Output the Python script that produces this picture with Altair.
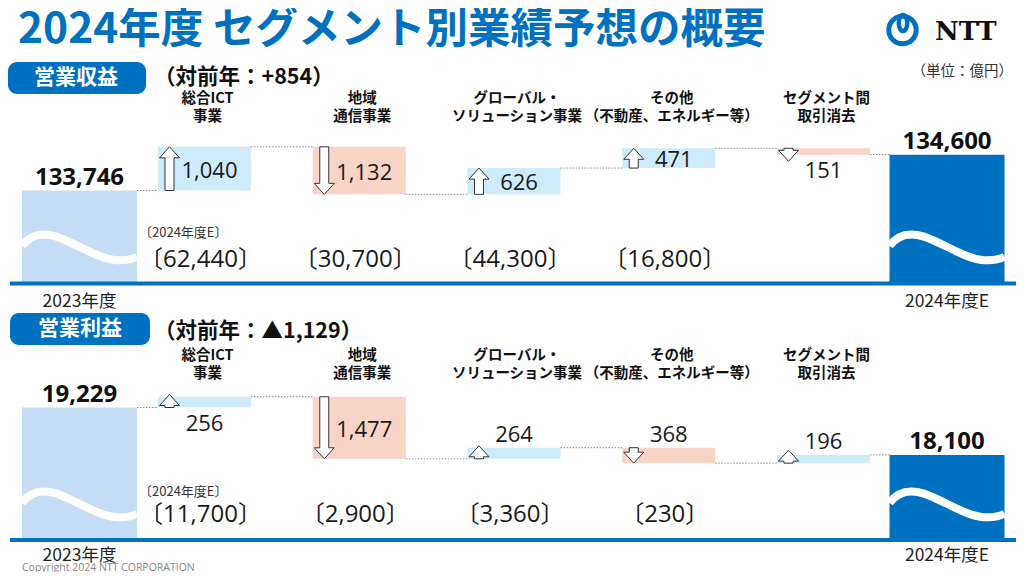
import altair as alt
import pandas as pd

# ---------------- data ----------------
columns = ["2023年度", "総合ICT\n事業", "地域\n通信事業", "グローバル・\nソリューション事業",
           "その他\n（不動産、エネルギー等）", "セグメント間\n取引消去", "2024年度E"]
segments = columns[1:6]
total_names = ["2023年度", "2024年度E"]

rev_start = 133746
rev_end = 134600
rev_delta = [1040, -1132, 626, 471, -151]
rev_fy24 = [62440, 30700, 44300, 16800]
rev_change = "（対前年：+854）"

prof_start = 19229
prof_end = 18100
prof_delta = [256, -1477, 264, -368, 196]
prof_fy24 = [11700, 2900, 3360, 230]
prof_change = "（対前年：▲1,129）"

# label placement of the change values (style, not data)
rev_place = ["in", "in", "in", "in", "below"]
prof_place = ["below", "in", "above", "above", "above"]

# ---------------- style ----------------
FONT_JP = "Noto Sans CJK JP"
FONT_NUM = "Open Sans, Noto Sans CJK JP"
BLUE = "#0070C0"
START_C = "#C5DDF5"
UP_C = "#CDEBFB"
DOWN_C = "#F9D3C6"
TXT = "#1a1a1a"

X_SCALE = alt.Scale(domain=[0, 1, 5, 6], range=[71.5, 196.5, 815.5, 939.0], zero=False, nice=False)
PX_PER_UNIT = 0.042
TOTAL_HALF = 57.5
SEG_HALF = 46.5
ARROW_DX = -35
MIN_ARROW_PX = 13
HEAD_UP = "M-0.45,1.1 L-1,1.1 L0,0 L1,1.1 L0.45,1.1"
HEAD_DOWN = "M-0.45,-1.1 L-1,-1.1 L0,0 L1,-1.1 L0.45,-1.1"
WAVE = ("M-1,-0.02 C-0.85,-0.22 -0.65,-0.26 -0.4,-0.18 "
        "C-0.05,-0.06 0.3,0.2 0.65,0.23 C0.8,0.24 0.92,0.21 1,0.17")


def xenc(field="idx"):
    return alt.X(f"{field}:Q", scale=X_SCALE, axis=None)


def build_panel(start, end, deltas, fy24, place, base, anchor_px, top_px, cat_y, fy_y, year_dy):
    lo = start - (base - anchor_px) / PX_PER_UNIT
    hi = start + (anchor_px - top_px) / PX_PER_UNIT
    ys = alt.Scale(domain=[lo, hi], range=[base, top_px], zero=False, nice=False)

    def Y(f):
        return alt.Y(f"{f}:Q", scale=ys, axis=None)

    min_units = MIN_ARROW_PX / PX_PER_UNIT
    rows = []
    cum = start
    for i, d in enumerate(deltas):
        s, e = cum, cum + d
        cum = e
        sign = 1 if d > 0 else -1
        rows.append(dict(idx=i + 1, name=segments[i], s=s, e=e, amount=abs(d),
                         up=d > 0, place=place[i], top=max(s, e), bottom=min(s, e),
                         mid=(s + e) / 2, tip=s + sign * max(abs(d), min_units)))
    seg = pd.DataFrame(rows)

    tot = pd.DataFrame(dict(idx=[0, 6], name=total_names, value=[start, end],
                            label=[f"{start:,}", f"{end:,}"]))

    conn = pd.DataFrame(dict(prev=[0, 1, 2, 3, 4, 5], idx=[1, 2, 3, 4, 5, 6],
                             level=list(seg["s"]) + [end],
                             kind=["first", "mid", "mid", "mid", "mid", "last"]))

    fy = pd.DataFrame(dict(idx=[1, 2, 3, 4], text=[f"〔{v:,}〕" for v in fy24]))

    layers = []
    layers.append(alt.Chart(tot).mark_rect(xOffset=-TOTAL_HALF, x2Offset=TOTAL_HALF).encode(
        x=xenc(), x2="idx:Q", y=Y("value"), y2=alt.value(base),
        color=alt.condition("datum.idx == 0", alt.value(START_C), alt.value(BLUE))))
    layers.append(alt.Chart(tot).mark_point(shape=WAVE, size=115 ** 2, filled=False, stroke="white",
                                            strokeWidth=8, opacity=1, strokeCap="butt").encode(
        x=xenc(), y=alt.value(base - 36)))
    layers.append(alt.Chart(seg).mark_rect(xOffset=-SEG_HALF, x2Offset=SEG_HALF).encode(
        x=xenc(), x2="idx:Q", y=Y("s"), y2="e:Q",
        color=alt.condition("datum.up", alt.value(UP_C), alt.value(DOWN_C))))
    offs = {"first": (TOTAL_HALF, -SEG_HALF), "mid": (SEG_HALF, -SEG_HALF), "last": (SEG_HALF, -TOTAL_HALF)}
    for k, (a, b) in offs.items():
        layers.append(alt.Chart(conn).transform_filter(f"datum.kind == '{k}'").mark_rule(
            xOffset=a, x2Offset=b, strokeDash=[1.5, 1.5], color="#8a8a8a", strokeWidth=1).encode(
            x=xenc("prev"), x2="idx:Q", y=Y("level")))
    for up in (True, False):
        flt = "datum.up" if up else "!datum.up"
        layers.append(alt.Chart(seg).transform_filter(flt).mark_rect(
            xOffset=ARROW_DX - 4.5, x2Offset=ARROW_DX + 4.5, y2Offset=10 if up else -10,
            fill="white", stroke="#333", strokeWidth=1).encode(
            x=xenc(), x2="idx:Q", y=Y("s"), y2="tip:Q"))
        layers.append(alt.Chart(seg).transform_filter(flt).mark_point(
            shape=HEAD_UP if up else HEAD_DOWN, size=400, filled=True, fill="white",
            stroke="#333", strokeWidth=1, opacity=1, xOffset=ARROW_DX).encode(
            x=xenc(), y=Y("tip")))
    for pl, fld, dy, dx in (("in", "mid", 2, 5), ("below", "bottom", 16, 0), ("above", "top", -13, 0)):
        layers.append(alt.Chart(seg).transform_filter(f"datum.place == '{pl}'").mark_text(
            font=FONT_NUM, fontSize=22, baseline="middle", dy=dy, dx=dx, color=TXT).encode(
            x=xenc(), y=Y(fld), text=alt.Text("amount:Q", format=",")))
    layers.append(alt.Chart(tot).mark_text(font=FONT_NUM, fontSize=24, fontWeight="bold",
                                           baseline="alphabetic", dy=-6, color="#111").encode(
        x=xenc(), y=Y("value"), text="label:N"))
    layers.append(alt.Chart(tot).mark_text(font=FONT_JP, fontSize=17.5, baseline="middle", color="#222").encode(
        x=xenc(), y=alt.value(base + year_dy), text="name:N"))
    layers.append(alt.Chart(fy).mark_text(font=FONT_NUM, fontSize=24, baseline="middle", dx=-4, color=TXT).encode(
        x=xenc(), y=alt.value(fy_y), text="text:N"))
    layers.append(alt.Chart(seg).mark_text(font=FONT_JP, fontSize=14.5, fontWeight="bold", baseline="top",
                                           lineBreak="\n", lineHeight=18, dx=3, color="#111").encode(
        x=xenc(), y=alt.value(cat_y), text="name:N"))
    return alt.layer(*layers)


rev_panel = build_panel(rev_start, rev_end, rev_delta, rev_fy24, rev_place,
                        base=275, anchor_px=182.5, top_px=60, cat_y=84, fy_y=252, year_dy=19)
prof_panel = build_panel(prof_start, prof_end, prof_delta, prof_fy24, prof_place,
                         base=532, anchor_px=399.5, top_px=320, cat_y=340.5, fy_y=507, year_dy=16)

one = pd.DataFrame({"a": [0]})
deco = []


def txt(s, x, y, **kw):
    return alt.Chart(one).mark_text(**kw).encode(x=alt.value(x), y=alt.value(y), text=alt.value(s))


deco.append(txt("2024年度 セグメント別業績予想の概要", 10, 22, font=FONT_JP, fontSize=42.5, fontWeight="bold",
                align="left", baseline="middle", color=BLUE))
for (x1, x2, y1, y2, label, lx, ly) in ((0, 138, 54, 86, "営業収益", 68, 70),
                                        (2, 142, 305, 337, "営業利益", 72, 321)):
    deco.append(alt.Chart(one).mark_rect(cornerRadius=9, color=BLUE).encode(
        x=alt.value(x1), x2=alt.value(x2), y=alt.value(y1), y2=alt.value(y2)))
    deco.append(txt(label, lx, ly, font=FONT_JP, fontSize=21, fontWeight="bold", color="white",
                    align="center", baseline="middle"))
deco.append(txt(rev_change, 146, 70, font=FONT_JP, fontSize=21.5, fontWeight="bold", align="left",
                baseline="middle", color="#111"))
deco.append(txt(prof_change, 146, 323.5, font=FONT_JP, fontSize=21.5, fontWeight="bold", align="left",
                baseline="middle", color="#111"))
deco.append(txt("（単位：億円）", 1005, 64, font=FONT_JP, fontSize=14.5, align="right",
                baseline="middle", color="#333"))
deco.append(txt("〔2024年度E〕", 131, 225, font=FONT_JP, fontSize=13, align="left",
                baseline="middle", color="#333"))
deco.append(txt("〔2024年度E〕", 131, 484, font=FONT_JP, fontSize=13, align="left",
                baseline="middle", color="#333"))
deco.append(txt("Copyright  2024 NTT CORPORATION", 14, 563, font="Open Sans", fontSize=10.5,
                align="left", baseline="alphabetic", color="#888"))
# NTT logo
deco.append(alt.Chart(one).mark_point(shape="circle", size=755, filled=False, stroke=BLUE,
                                      strokeWidth=5, opacity=1).encode(x=alt.value(894.5), y=alt.value(22)))
deco.append(alt.Chart(one).mark_point(shape="M0,-0.9 A0.47,0.9 0 1,1 0,0.9 A0.47,0.9 0 1,1 0,-0.9 Z",
                                      size=324, filled=False, stroke=BLUE, strokeWidth=4.5,
                                      opacity=1).encode(x=alt.value(895), y=alt.value(15)))
deco.append(txt("NTT", 927, 24, font="DejaVu Serif", fontSize=26, fontWeight="bold", align="left",
                baseline="middle", color="#111"))
# base lines
for yb in (275.5, 532):
    deco.append(alt.Chart(one).mark_rule(color=BLUE, strokeWidth=4).encode(
        x=alt.value(2), x2=alt.value(1016), y=alt.value(yb)))

chart = alt.layer(rev_panel, prof_panel, *deco).resolve_scale(y="independent").properties(
    width=1008, height=564, padding=0, autosize=alt.AutoSizeParams(type="none"), background="white"
).configure_view(stroke=None)

chart.save("out.html", embed_options={"renderer": "svg", "actions": False})
